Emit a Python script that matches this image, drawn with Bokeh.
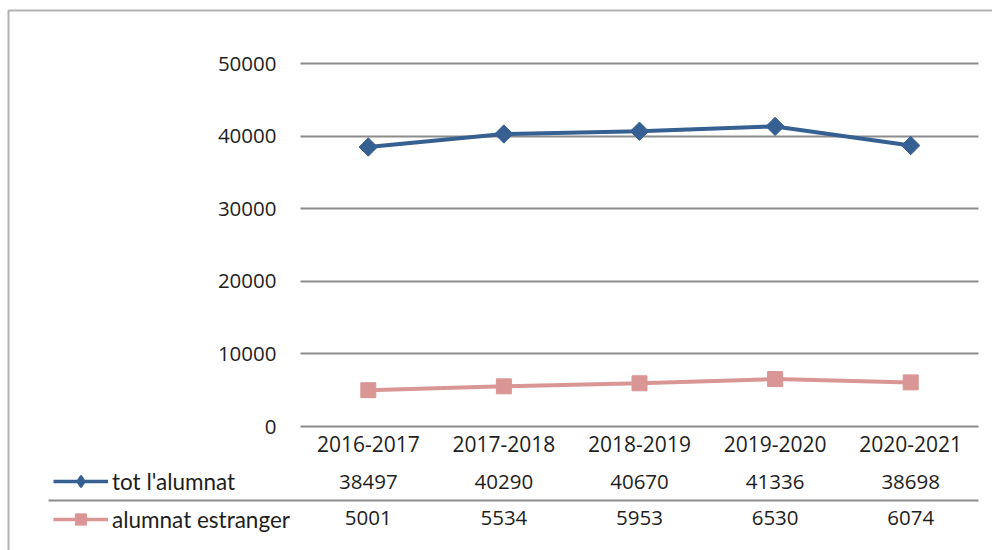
from math import pi
from bokeh.plotting import figure
from bokeh.models import Range1d, FixedTicker, Legend, LegendItem, BoxAnnotation
from bokeh.core.properties import value
from bokeh.embed import file_html
from bokeh.resources import INLINE

# ---- data ----
categories = ["2016-2017", "2017-2018", "2018-2019", "2019-2020", "2020-2021"]
tot_alumnat = [38497, 40290, 40670, 41336, 38698]
alumnat_estranger = [5001, 5534, 5953, 6530, 6074]
series_names = ["tot l'alumnat", "alumnat estranger"]
y_ticks = [0, 10000, 20000, 30000, 40000, 50000]

# ---- style / layout ----
BLUE = "#376092"
PINK = "#D99694"
GRID = "#8c8c8c"
TXT = "#1e1e1e"
NUM_FONT = "Open Sans"
LEG_FONT = "Lato"
FS = "20.5px"

W, H = 992, 550
PLOT_L, PLOT_R = 300, 978       # plot-area edges (px)
ZERO_Y, TOP_Y = 426, 63          # px of value 0 and of top tick
BAND = (PLOT_R - PLOT_L) / len(categories)
PXV = (ZERO_Y - TOP_Y) / y_ticks[-1]   # px per unit
NAN = float("nan")


def xdata(px):
    return -0.5 + (px - PLOT_L) / BAND


def ydata(py):
    return (ZERO_Y - py) / PXV


p = figure(width=W, height=H, output_backend="svg", toolbar_location=None,
           x_range=Range1d(xdata(0), xdata(W)), y_range=Range1d(ydata(H), ydata(0)),
           min_border=0)
p.outline_line_color = None
p.background_fill_color = "white"
p.border_fill_color = "white"

xs = list(range(len(categories)))

# grid
p.xgrid.grid_line_color = None
p.ygrid.ticker = FixedTicker(ticks=y_ticks)
p.ygrid.grid_line_color = GRID
p.ygrid.grid_line_width = 2
p.ygrid.cross_bounds = (-0.5, len(categories) - 0.5)

# y axis (drawn at the plot-area's left edge)
p.yaxis.fixed_location = -0.5
p.yaxis.ticker = FixedTicker(ticks=y_ticks)
p.yaxis.axis_line_color = None
p.yaxis.major_tick_line_color = None
p.yaxis.major_tick_out = 0
p.yaxis.major_tick_in = 0
p.yaxis.minor_tick_line_color = None
p.yaxis.major_label_standoff = 24
p.yaxis.major_label_text_font = NUM_FONT
p.yaxis.major_label_text_font_size = FS
p.yaxis.major_label_text_color = TXT

# x axis (drawn at value 0)
p.xaxis.fixed_location = 0
p.xaxis.ticker = FixedTicker(ticks=xs)
p.xaxis.major_label_overrides = {i: c for i, c in enumerate(categories)}
p.xaxis.axis_line_color = None
p.xaxis.major_tick_line_color = None
p.xaxis.major_tick_out = 0
p.xaxis.major_tick_in = 0
p.xaxis.minor_tick_line_color = None
p.xaxis.major_label_standoff = 9
p.xaxis.major_label_text_font = NUM_FONT
p.xaxis.major_label_text_font_size = "21px"
p.xaxis.major_label_text_color = TXT

# series
p.line(xs, tot_alumnat, line_color=BLUE, line_width=4)
p.scatter(xs, tot_alumnat, marker="square", angle=pi / 4, size=13,
          fill_color=BLUE, line_color=BLUE)
p.line(xs, alumnat_estranger, line_color=PINK, line_width=4)
p.scatter(xs, alumnat_estranger, marker="square", size=15,
          fill_color=PINK, line_color=PINK)

# data table values
p.text(x=xs, y=[ydata(481)] * len(xs), text=[str(v) for v in tot_alumnat],
       text_align="center", text_baseline="middle", text_font=value(NUM_FONT),
       text_font_size=FS, text_color=TXT)
p.text(x=xs, y=[ydata(517.5)] * len(xs), text=[str(v) for v in alumnat_estranger],
       text_align="center", text_baseline="middle", text_font=value(NUM_FONT),
       text_font_size=FS, text_color=TXT)
# table separator
p.segment(x0=[xdata(48)], y0=[ydata(500)], x1=[len(categories) - 0.5], y1=[ydata(500)],
          line_color=GRID, line_width=2)

# legend keys (proxy renderers that draw nothing in the plot area)
l1 = p.line([NAN], [NAN], line_color=BLUE, line_width=3.5)
m1 = p.scatter([NAN], [NAN], marker="diamond", size=15,
               fill_color=BLUE, line_color=BLUE, line_width=2)
l2 = p.line([NAN], [NAN], line_color=PINK, line_width=3.5)
m2 = p.scatter([NAN], [NAN], marker="square", size=12,
               fill_color=PINK, line_color=PINK)
legend = Legend(items=[LegendItem(label=series_names[0], renderers=[l1, m1]),
                       LegendItem(label=series_names[1], renderers=[l2, m2])],
                location=(53, H - 533), orientation="vertical", padding=0, margin=0,
                spacing=10, glyph_width=55, glyph_height=28, label_height=28,
                label_standoff=4, label_text_font=LEG_FONT, label_text_font_size="22.5px",
                label_text_color=TXT, border_line_color=None, background_fill_alpha=0)
p.add_layout(legend, "center")

# chart border
p.add_layout(BoxAnnotation(left=8, right=3000, top=10, bottom=3000,
                           left_units="canvas", right_units="canvas",
                           top_units="canvas", bottom_units="canvas",
                           fill_alpha=0, line_color="black", line_width=2))

open("out.html", "w").write(file_html(p, INLINE))
